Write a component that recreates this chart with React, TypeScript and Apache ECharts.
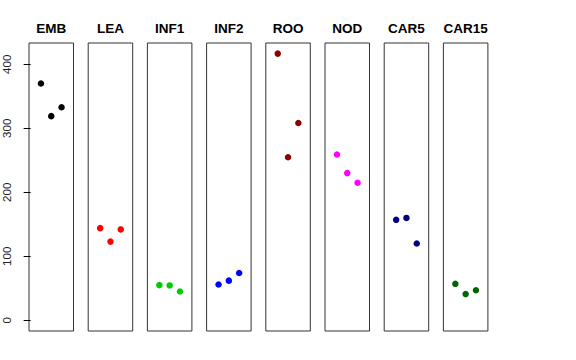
import React, { useEffect, useRef } from "react";
import * as echarts from "echarts";

const categories = ["EMB", "LEA", "INF1", "INF2", "ROO", "NOD", "CAR5", "CAR15"];
const colors = ["#000000", "#FF0000", "#00CD00", "#0000FF", "#8B0000", "#FF00FF", "#000080", "#006400"];
const embValues = [370, 319, 333];
const leaValues = [144, 123, 142];
const inf1Values = [55, 54.5, 45];
const inf2Values = [56, 62, 74];
const rooValues = [416.7, 254.7, 308.3];
const nodValues = [259, 230, 215];
const car5Values = [157, 160, 120];
const car15Values = [57, 41, 47];
const replicate = [1, 2, 3];
const yTicks = [0, 100, 200, 300, 400];

const allValues = [embValues, leaValues, inf1Values, inf2Values, rooValues, nodValues, car5Values, car15Values];

export default function App() {
  const ref = useRef<HTMLDivElement>(null);
  useEffect(() => {
    if (!ref.current) return;
    const chart = echarts.init(ref.current, null, { renderer: "svg" });
    const grids: any[] = [];
    const xAxes: any[] = [];
    const yAxes: any[] = [];
    const series: any[] = [];
    const titles: any[] = [];
    categories.forEach((cat, i) => {
      const left = 29 + 59.2 * i;
      const width = 44.5;
      grids.push({ left, top: 43, width, height: 288, show: true, borderColor: "#333", borderWidth: 1, backgroundColor: "transparent" });
      xAxes.push({
        type: "value", gridIndex: i, min: -0.16, max: 4.16,
        axisLine: { show: false }, axisTick: { show: false }, axisLabel: { show: false }, splitLine: { show: false },
      });
      yAxes.push({
        type: "value", gridIndex: i, min: -16.7, max: 433.3,
        axisLine: { show: false },
        axisTick: { show: i === 0, length: 7, lineStyle: { color: "#000", width: 1 }, customValues: yTicks },
        axisLabel: { show: i === 0, rotate: 90, margin: 16, fontSize: 11.5, color: "#222", fontFamily: "Liberation Sans, Arial, sans-serif", customValues: yTicks },
        splitLine: { show: false },
      });
      series.push({
        type: "scatter", xAxisIndex: i, yAxisIndex: i, symbol: "circle", symbolSize: 6.5,
        itemStyle: { color: colors[i], opacity: 1 },
        data: replicate.map((r, j) => [r, allValues[i][j]]),
      });
      titles.push({
        text: cat, left: left + width / 2, top: 21, textAlign: "center", padding: 0,
        textStyle: { fontSize: 13.5, fontWeight: "bold", color: "#000", fontFamily: "Liberation Sans, Arial, sans-serif" },
      });
    });
    chart.setOption({
      animation: false,
      backgroundColor: "#fff",
      title: titles,
      grid: grids,
      xAxis: xAxes,
      yAxis: yAxes,
      series,
    });
    return () => chart.dispose();
  }, []);
  return <div ref={ref} style={{ width: 576, height: 360, position: "absolute", left: 0, top: 0 }} />;
}
